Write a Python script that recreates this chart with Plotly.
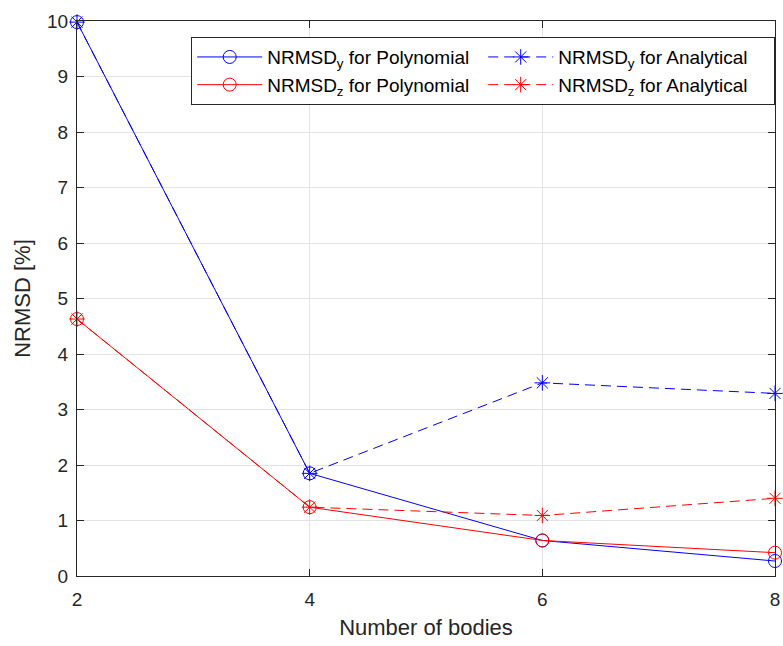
import plotly.graph_objects as go

bodies = [2, 4, 6, 8]
poly_y = [9.98, 1.85, 0.64, 0.27]
poly_z = [4.63, 1.24, 0.64, 0.42]
anal_y = [9.98, 1.85, 3.48, 3.29]
anal_z = [4.63, 1.24, 1.09, 1.40]

BLUE = "#0000FF"
RED = "#FF0000"
DARK = "#262626"
FONT = "Liberation Sans, Arial, Helvetica, sans-serif"

fig = go.Figure()

def add(x, y, name, color, dash, symbol):
    fig.add_trace(go.Scatter(
        x=x, y=y, name=name, mode="lines+markers",
        line=dict(color=color, width=1, dash=dash),
        marker=dict(symbol=symbol, size=13, color=color,
                    line=dict(color=color, width=1)),
        cliponaxis=False,
    ))

add(bodies, poly_y, "NRMSD<sub>y</sub> for Polynomial", BLUE, "solid", "circle-open")
add(bodies, anal_y, "NRMSD<sub>y</sub> for Analytical", BLUE, "10px,6px", "asterisk-open")
add(bodies, poly_z, "NRMSD<sub>z</sub> for Polynomial", RED, "solid", "circle-open")
add(bodies, anal_z, "NRMSD<sub>z</sub> for Analytical", RED, "10px,6px", "asterisk-open")

axis_common = dict(
    showline=True, linecolor=DARK, linewidth=1, mirror="ticks",
    ticks="inside", ticklen=7, tickcolor=DARK, tickwidth=1,
    showgrid=True, gridcolor="#E3E3E3", gridwidth=1,
    zeroline=False, ticklabeloverflow="allow",
    tickfont=dict(family=FONT, size=19, color=DARK),
)

fig.update_layout(
    width=783, height=646,
    margin=dict(l=77, r=3, t=21, b=70),
    paper_bgcolor="white", plot_bgcolor="white",
    font=dict(family=FONT, color=DARK),
    xaxis=dict(range=[2, 8], tickvals=[2, 4, 6, 8], ticklabelstandoff=6,
               title=dict(text="Number of bodies", font=dict(family=FONT, size=22, color=DARK), standoff=10),
               **axis_common),
    yaxis=dict(range=[0, 10], tickvals=list(range(0, 11)), ticklabelstandoff=4,
               title=dict(text="NRMSD [%]", font=dict(family=FONT, size=22, color=DARK), standoff=10),
               **axis_common),
    legend=dict(
        orientation="h", x=0.1636, y=0.971, xanchor="left", yanchor="top",
        bgcolor="white", bordercolor=DARK, borderwidth=1,
        font=dict(family=FONT, size=19, color="#000000"),
        entrywidth=211, itemwidth=65,
    ),
    showlegend=True,
)

fig.write_html("out.html")
